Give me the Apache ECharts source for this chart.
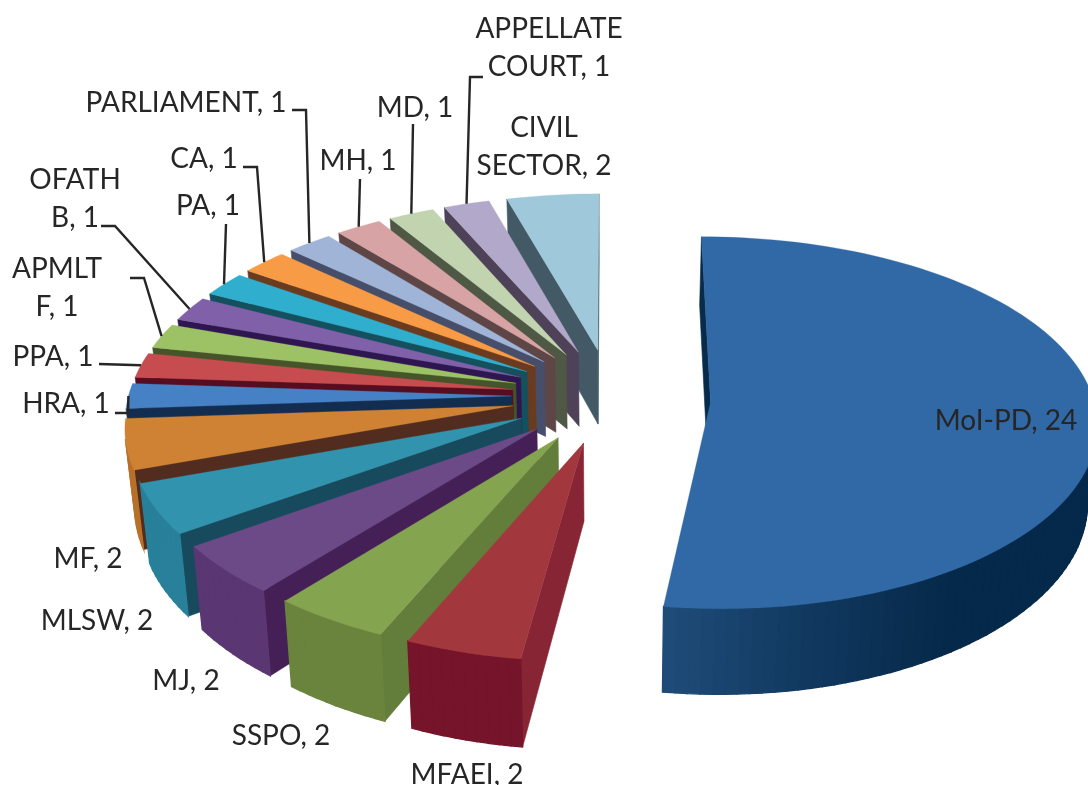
<!DOCTYPE html>
<html><head><meta charset="utf-8">
<style>html,body{margin:0;padding:0;background:#fff}#c{width:1088px;height:785px}</style>
<script src="https://cdn.jsdelivr.net/npm/echarts@6/dist/echarts.min.js"></script>
</head><body><div id="c"></div>
<script>
const categories = ['MoI-PD','MFAEI','SSPO','MJ','MLSW','MF','HRA','PPA','APMLTF','OFATHB','PA','CA','PARLIAMENT','MH','MD','APPELLATE COURT','CIVIL SECTOR'];
const values = [24,2,2,2,2,2,1,1,1,1,1,1,1,1,1,1,2];
const topColors = ['#3069a5','#a2383d','#84a450','#6c4a87','#3193ad','#cf8233','#4581c4','#c64c50','#9cc265','#7f60a9','#2fafcd','#f79b46','#9fb4d6','#d7a3a4','#c1d4af','#b2a8c9','#9fc8da'];
const radialColors = ['#062b4b','#872534','#637d3a','#452057','#164a5c','#522d1f','#122d50','#560d22','#455429','#2f1650','#14505e','#6b3b1f','#464e6a','#5e4546','#4e5845','#4d4257','#435a66'];
const outerColors = ['#05294a','#75142a','#6a843d','#5a3773','#28809a','#b8712a','#3a70a8','#a83c40','#84a450','#6a4a8e','#2896b0','#d48030','#8093b0','#b08586','#9fb090','#9288a8','#82a5b5'];
const outerEndColors = ['#1e4b78'];
const labelTexts = ['MoI-PD, 24','MFAEI, 2','SSPO, 2','MJ, 2','MLSW, 2','MF, 2','HRA, 1','PPA, 1','APMLT\nF, 1','OFATH\nB, 1','PA, 1','CA, 1','PARLIAMENT, 1','MH, 1','MD, 1','APPELLATE\nCOURT, 1','CIVIL\nSECTOR, 2'];
const labelAnchors = [[1006,421],[467,775],[281,736],[186,681],[97,621],[88,559],[66,404],[53,357],[57,288],[75,199],[208,206],[204,159],[186,103],[358,161],[415,108],[549,48],[544,147]];
const leaderElbows = [null,null,null,null,null,null,[[115,413],[128,413]],[[99,364]],[[130,278],[144,278]],[[101,226],[115,226]],[[226,224]],[[243,167],[257,167]],[[292,110],[306,110]],[[360,179]],[[413,124]],[[483,77],[470,77]],null];

// projection of the tilted pie
const CX = 611, CY = 396, RX = 383, RY = 183, PERSP_Y = 0.11, PERSP_X = 0.10, EXPLODE = 0.26, DEPTH = 76, FOOT = 0.98;
const sliceShiftY = [3];
const total = values.reduce((a, b) => a + b, 0);
const rad = v => v / total * Math.PI * 2;
function project(a, b, dy) {
  const P = 1 / (1 - PERSP_Y * b), Q = 1 / (1 - PERSP_X * b);
  return { x: CX + RX * a * Q, y: CY + (dy || 0) + RY * b * P, P };
}
function foot(p) { return [CX + (p.x - CX) * FOOT, p.y + DEPTH * p.P]; }
function angles(i) {
  let s = 0;
  for (let k = 0; k < i; k++) s += rad(values[k]);
  return [s, s + rad(values[i])];
}
function slicePoints(i) {
  const [t0, t1] = angles(i), mid = (t0 + t1) / 2, dy = sliceShiftY[i] || 0;
  const ea = EXPLODE * Math.sin(mid), eb = -EXPLODE * Math.cos(mid);
  const n = Math.max(6, Math.ceil((t1 - t0) / 0.03));
  const arc = [];
  for (let k = 0; k <= n; k++) {
    const t = t0 + (t1 - t0) * k / n;
    arc.push(project(ea + Math.sin(t), eb - Math.cos(t), dy));
  }
  return { apex: project(ea, eb, dy), arc };
}
function hex(c) { return [1, 3, 5].map(o => parseInt(c.substr(o, 2), 16)); }
function mix(a, b, t) {
  const A = hex(a), B = hex(b);
  return 'rgb(' + A.map((v, k) => Math.round(v + (B[k] - v) * t)).join(',') + ')';
}
function quad(p0, p1) {
  const f1 = foot(p1), f0 = foot(p0);
  return [[p0.x, p0.y], [p1.x, p1.y], f1, f0];
}
function isFront(q) {
  let s = 0;
  for (let k = 0; k < q.length; k++) {
    const a = q[k], b = q[(k + 1) % q.length];
    s += a[0] * b[1] - b[0] * a[1];
  }
  return s < 0;
}
function poly(pts, color, z2, strokeW) {
  return { type: 'polygon', z2, shape: { points: pts }, style: { fill: color, stroke: color, lineWidth: strokeW || 0.6 } };
}
function renderSlice(params, api) {
  const i = params.dataIndex;
  const { apex, arc } = slicePoints(i);
  const base = i === 0 ? 0 : (values.length - i) * 10;
  const children = [];
  const endCol = outerEndColors[i] || outerColors[i];
  const a = quad(apex, arc[0]);
  if (isFront(a)) children.push(poly(a, radialColors[i], base + 1));
  const b = quad(arc[arc.length - 1], apex);
  if (isFront(b)) children.push(poly(b, radialColors[i], base + 1));
  for (let k = 0; k < arc.length - 1; k++) {
    const q = quad(arc[k], arc[k + 1]);
    if (isFront(q)) {
      const t = k / (arc.length - 2);
      const shade = Math.pow(Math.min(1, Math.max(0, (t - 0.78) / 0.22)), 1.2);
      children.push(poly(q, mix(outerColors[i], endCol, shade), base + 2, 1.3));
    }
  }
  const top = [[apex.x, apex.y]].concat(arc.map(p => [p.x, p.y]));
  children.push(poly(top, topColors[i], base + 5, 0.3));
  return { type: 'group', children };
}
function renderLabel(params, api) {
  const i = params.dataIndex;
  const children = [];
  const el = leaderElbows[i];
  if (el) {
    const { arc } = slicePoints(i);
    const m = arc[Math.floor(arc.length / 2)];
    children.push({ type: 'polyline', z2: 500, shape: { points: el.concat([[m.x, m.y]]) },
      style: { stroke: '#262626', lineWidth: 2.4, fill: null } });
  }
  children.push({ type: 'text', z2: 510, style: {
    text: labelTexts[i], x: labelAnchors[i][0], y: labelAnchors[i][1],
    align: 'center', verticalAlign: 'middle', fill: '#262626', lineHeight: 38,
    font: '28px Lato, "Open Sans", sans-serif' } });
  return { type: 'group', children };
}
const chart = echarts.init(document.getElementById('c'), null, { renderer: 'canvas' });
const rows = categories.map((name, k) => ({ name, value: [values[k]] }));
chart.setOption({
  animation: false,
  backgroundColor: '#fff',
  series: [
    { type: 'custom', coordinateSystem: 'none', clip: false, renderItem: renderSlice, data: rows, silent: true },
    { type: 'custom', coordinateSystem: 'none', clip: false, renderItem: renderLabel, data: rows, silent: true, z: 5 }
  ]
});
</script></body></html>
